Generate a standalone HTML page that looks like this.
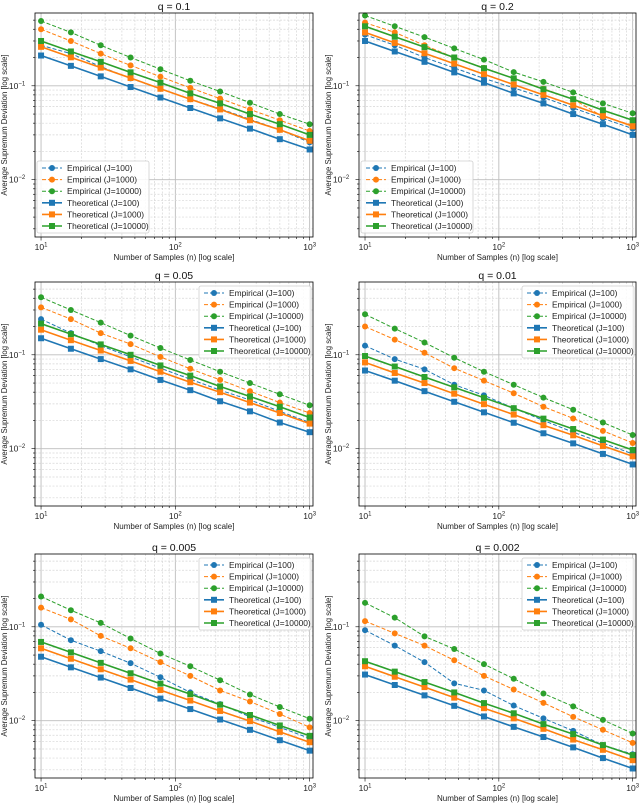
<!DOCTYPE html>
<html><head><meta charset="utf-8"><style>
html,body{margin:0;padding:0;background:#fff;}
svg{display:block;font-family:"Liberation Sans","DejaVu Sans",sans-serif;}
</style></head>
<body>
<svg id="fig" width="640" height="804" viewBox="0 0 640 804" xmlns="http://www.w3.org/2000/svg"></svg>
<script>
const nValues=[10,16.68,27.83,46.42,77.43,129.2,215.4,359.4,599.5,1000];
const panelTitles=["q = 0.1","q = 0.2","q = 0.05","q = 0.01","q = 0.005","q = 0.002"];
const seriesLabels=["Empirical (J=100)","Empirical (J=1000)","Empirical (J=10000)","Theoretical (J=100)","Theoretical (J=1000)","Theoretical (J=10000)"];
const xTickLabels=["1","2","3"];
const yTickLabels=["-1","-2"];
const emp_q01=[[.27,.22,.16,.12,.093,.072,.057,.044,.034,.025],[.40,.30,.22,.165,.125,.095,.073,.056,.043,.033],[.49,.37,.27,.20,.15,.113,.087,.066,.050,.039]];
const th_q01=[[.21,.163,.126,.097,.075,.058,.045,.035,.027,.021],[.26,.201,.156,.121,.093,.072,.056,.043,.034,.026],[.30,.232,.18,.139,.108,.083,.065,.05,.039,.03]];
const emp_q02=[[.35,.27,.20,.155,.12,.095,.075,.058,.045,.035],[.47,.37,.27,.20,.155,.12,.093,.072,.047,.038],[.56,.43,.33,.25,.19,.14,.11,.085,.065,.051]];
const th_q02=[[.30,.232,.18,.139,.108,.083,.065,.05,.039,.03],[.37,.286,.222,.172,.133,.103,.080,.062,.048,.037],[.43,.333,.258,.2,.154,.12,.092,.072,.055,.043]];
const emp_q005=[[.24,.17,.125,.095,.072,.055,.042,.033,.025,.019],[.32,.24,.17,.13,.095,.071,.054,.041,.031,.024],[.41,.30,.22,.16,.118,.088,.066,.050,.038,.029]];
const th_q005=[[.15,.116,.09,.07,.054,.042,.032,.025,.019,.015],[.185,.143,.111,.086,.066,.051,.04,.031,.024,.0185],[.215,.166,.129,.1,.077,.06,.046,.036,.028,.0215]];
const emp_q001=[[.125,.09,.07,.048,.037,.027,.020,.015,.0115,.0088],[.20,.145,.105,.072,.053,.039,.028,.021,.0155,.0115],[.27,.19,.135,.093,.066,.048,.035,.026,.019,.014]];
const th_q001=[[.068,.053,.041,.0316,.0244,.0189,.0146,.0114,.0088,.0068],[.083,.064,.05,.0385,.0298,.0231,.0178,.0139,.0107,.0083],[.097,.075,.058,.045,.0348,.027,.0209,.0162,.0125,.0097]];
const emp_q0005=[[.105,.072,.055,.041,.029,.020,.015,.011,.0085,.0065],[.16,.12,.08,.059,.042,.030,.021,.016,.0118,.0085],[.21,.15,.11,.075,.052,.038,.027,.019,.014,.0105]];
const th_q0005=[[.048,.037,.0288,.0223,.0172,.0133,.0103,.008,.0062,.0048],[.059,.0457,.0353,.0274,.0212,.0164,.0127,.0099,.0076,.0059],[.069,.0534,.0413,.032,.0248,.0192,.0148,.0115,.0089,.0069]];
const emp_q0002=[[.092,.063,.042,.025,.021,.0145,.0106,.0078,.0055,.0044],[.115,.085,.063,.044,.030,.0215,.0155,.011,.008,.0058],[.18,.125,.079,.058,.040,.028,.0195,.0142,.0102,.0073]];
const th_q0002=[[.031,.024,.0186,.0144,.0111,.0086,.0067,.0052,.004,.0031],[.038,.0294,.0228,.0176,.0136,.0106,.0082,.0063,.0049,.0038],[.043,.0333,.0258,.02,.0154,.012,.0092,.0072,.0055,.0043]];
const empData=[emp_q01,emp_q02,emp_q005,emp_q001,emp_q0005,emp_q0002];
const thData=[th_q01,th_q02,th_q005,th_q001,th_q0005,th_q0002];

const colors=["#1f77b4","#ff7f0e","#2ca02c"];
const NS="http://www.w3.org/2000/svg";
const svg=document.getElementById('fig');
function mk(tag,attrs,parent){const e=document.createElementNS(NS,tag);for(const k in attrs)e.setAttribute(k,attrs[k]);(parent||svg).appendChild(e);return e;}
const cols=[{x0:35,x1:313},{x0:359,x1:636}];
const rows=[{t:13,b:237},{t:282,b:506},{t:554,b:778}];
const XL=[0.955,3.025], YL=[-2.61,-0.225];
for(let p=0;p<6;p++){
  const c=cols[p%2], r=rows[Math.floor(p/2)];
  const xs=v=>c.x0+(Math.log10(v)-XL[0])/(XL[1]-XL[0])*(c.x1-c.x0);
  const ys=v=>r.b-(Math.log10(v)-YL[0])/(YL[1]-YL[0])*(r.b-r.t);
  const g=mk('g',{});
  
  
  const grid=mk('g',{},g);
  
  
  for(let d=0;d<=3;d++)for(let m=1;m<10;m++){const v=m*Math.pow(10,d);const lv=Math.log10(v);if(lv<XL[0]||lv>XL[1])continue;const x=xs(v);
    mk('line',{x1:x,x2:x,y1:r.t,y2:r.b,stroke:m==1?'#bdbdbd':'#d6d6d6','stroke-width':m==1?0.9:0.7,'stroke-dasharray':m==1?'':'2,1.5'},grid);
    mk('line',{x1:x,x2:x,y1:r.b,y2:r.b+(m==1?3.5:2),stroke:'#000','stroke-width':0.6},g);}
  for(let d=-3;d<=0;d++)for(let m=1;m<10;m++){const v=m*Math.pow(10,d);const lv=Math.log10(v);if(lv<YL[0]||lv>YL[1])continue;const y=ys(v);
    mk('line',{x1:c.x0,x2:c.x1,y1:y,y2:y,stroke:m==1?'#bdbdbd':'#d6d6d6','stroke-width':m==1?0.9:0.7,'stroke-dasharray':m==1?'':'2,1.5'},grid);
    mk('line',{x1:c.x0-(m==1?3.5:2),x2:c.x0,y1:y,y2:y,stroke:'#000','stroke-width':0.6},g);}
  xTickLabels.forEach(t=>{const x=xs(Math.pow(10,+t));const tx=mk('text',{x:x,y:r.b+13,'font-size':8.5,'text-anchor':'middle',fill:'#222'},g);
    
    tx.textContent='10';const s=mk('tspan',{dy:-3.5,'font-size':6},tx);s.textContent=t;});
  yTickLabels.forEach(t=>{const y=ys(Math.pow(10,+t));const tx=mk('text',{x:c.x0-18,y:y+3,'font-size':8.5,'text-anchor':'middle',fill:'#222'},g);
    
    tx.textContent='10';const s=mk('tspan',{dy:-3.5,'font-size':6},tx);s.textContent='\u2212'+t.slice(1);});
  const all=[...empData[p].map((v,i)=>({v,i,emp:true})),...thData[p].map((v,i)=>({v,i,emp:false}))];
  all.forEach((s,k)=>{const sg=mk('g',{},g);
    
    
    const pts=s.v.map((v,j)=>xs(nValues[j]).toFixed(1)+','+ys(v).toFixed(1)).join(' ');
    mk('polyline',{points:pts,fill:'none',stroke:colors[s.i],'stroke-width':s.emp?1:1.6,'stroke-dasharray':s.emp?'4,2':''},sg);
    s.v.forEach((v,j)=>{const x=xs(nValues[j]),y=ys(v);
      const m=s.emp?mk('circle',{cx:x,cy:y,r:3,fill:colors[s.i]},sg):mk('rect',{x:x-3,y:y-3,width:6,height:6,fill:colors[s.i]},sg);
      });
  });
  mk('rect',{x:c.x0,y:r.t,width:c.x1-c.x0,height:r.b-r.t,fill:'none',stroke:'#000','stroke-width':0.8},g);
  const tt=mk('text',{x:(c.x0+c.x1)/2,y:r.t-3,'font-size':10.5,'text-anchor':'middle',fill:'#111'},g);
  tt.textContent=panelTitles[p];
  const xl=mk('text',{x:(c.x0+c.x1)/2,y:r.b+23,'font-size':8,'text-anchor':'middle',fill:'#222'},g);
  xl.textContent='Number of Samples (n) [log scale]';
  const yx=c.x0-28, yy=(r.t+r.b)/2;
  const yl=mk('text',{x:yx,y:yy,'font-size':7.8,'text-anchor':'middle',fill:'#222',transform:'rotate(-90 '+yx+' '+yy+')'},g);
  yl.textContent='Average Supremum Deviation [log scale]';
  const lw=112, lh=72;
  const lx=p<2?c.x0+2:c.x1-lw-2, ly=p<2?r.b-lh-4:r.t+4;
  const lg=mk('g',{},g);
  
  mk('rect',{x:lx,y:ly,width:lw,height:lh,rx:2,fill:'#fff','fill-opacity':0.85,stroke:'#d0d0d0','stroke-width':0.8},lg);
  seriesLabels.forEach((lab,k)=>{const ci=k%3, emp=k<3, y=ly+7+k*11.6;
    const e=mk('g',{},lg);
    mk('line',{x1:lx+5,x2:lx+25,y1:y,y2:y,stroke:colors[ci],'stroke-width':emp?1:1.6,'stroke-dasharray':emp?'4,2':''},e);
    if(emp)mk('circle',{cx:lx+15,cy:y,r:3,fill:colors[ci]},e);else mk('rect',{x:lx+12,y:y-3,width:6,height:6,fill:colors[ci]},e);
    const t=mk('text',{x:lx+30,y:y+3,'font-size':8.4,fill:'#222'},e);t.textContent=lab;});
}
</script>
</body></html>
